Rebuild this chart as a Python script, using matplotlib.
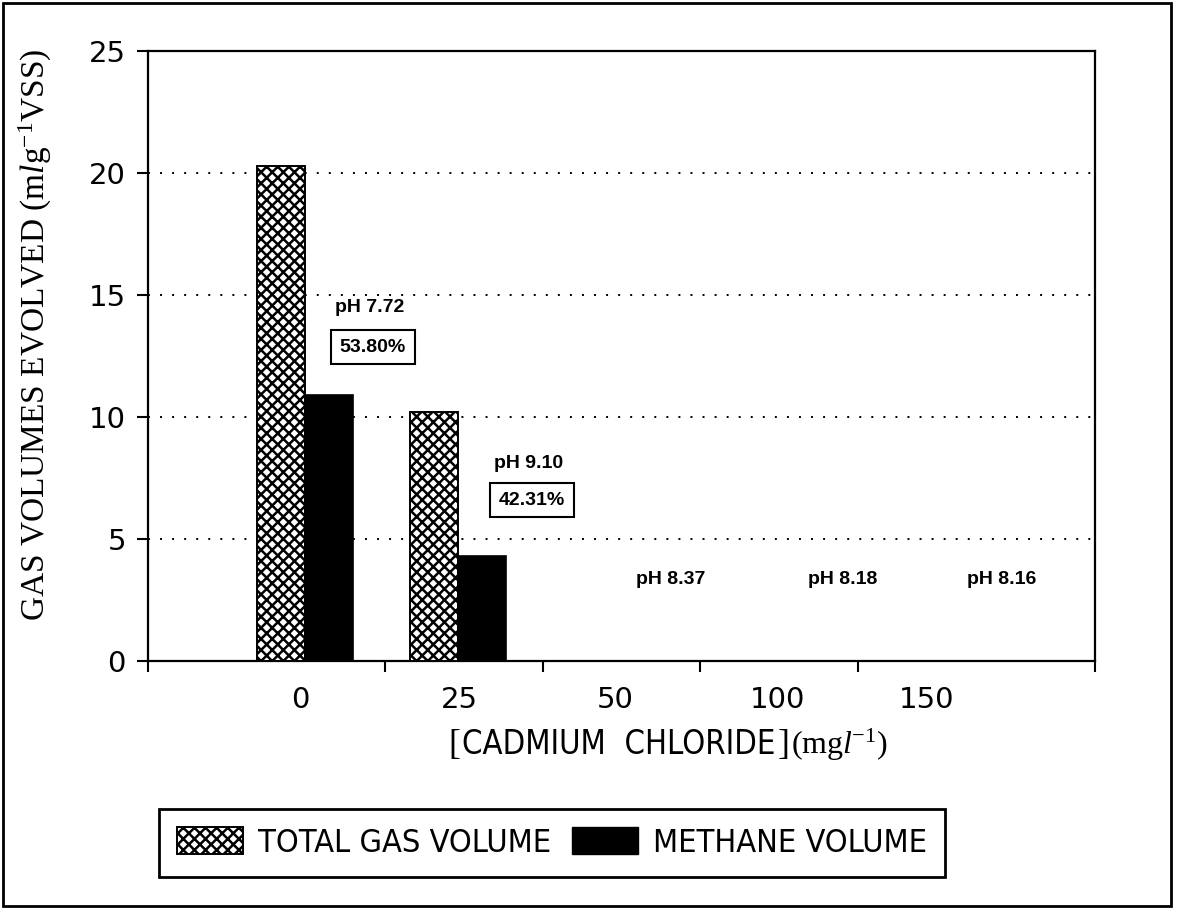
import matplotlib
matplotlib.use('Agg')
import matplotlib.pyplot as plt
import numpy as np
from matplotlib import font_manager as fm
from matplotlib.patches import Rectangle, Patch
from matplotlib.font_manager import FontProperties

# ---------------- data ----------------
concentrations = ['0', '25', '50', '100', '150']
total_gas = [20.3, 10.2, 0.0, 0.0, 0.0]
methane = [10.9, 4.3, 0.0, 0.0, 0.0]
ph_labels = ['pH 7.72', 'pH 9.10', 'pH 8.37', 'pH 8.18', 'pH 8.16']
methane_pct = ['53.80%', '42.31%']
y_ticks = [0, 5, 10, 15, 20, 25]

# ---------------- fonts ----------------
def narrow_font(size):
    cands = []
    for f in fm.fontManager.ttflist:
        fn = f.fname.split('/')[-1].lower()
        if ('narrow' in fn or 'condensed' in fn) and 'bold' not in fn \
                and 'italic' not in fn and 'oblique' not in fn and 'mono' not in fn:
            cands.append(f.fname)
    if cands:
        cands.sort(key=lambda p: (0 if 'liberation' in p.lower() else 1, p))
        return FontProperties(fname=cands[0], size=size)
    return FontProperties(family='Carlito', size=size)

SERIF = 'Liberation Serif'
plt.rcParams['mathtext.fontset'] = 'custom'
plt.rcParams['mathtext.rm'] = SERIF
plt.rcParams['mathtext.it'] = SERIF + ':italic'
plt.rcParams['hatch.linewidth'] = 1.8

W, H = 1178, 910
fig = plt.figure(figsize=(W / 100, H / 100), dpi=100)

def fx(px):
    return px / W

def fy(py):
    return 1 - py / H

L, R, T, B = 148, 1095, 51, 661
ax = fig.add_axes([fx(L), fy(B), fx(R - L), (B - T) / H])

# layout positions (x axis runs 0..6)
group_x = np.array([0.995, 1.965, 2.96, 3.99, 4.93])
label_x = [0.965, 1.975, 2.96, 3.99, 4.93]
bw = 0.305

ax.bar(group_x - bw / 2, total_gas, bw, color='white', edgecolor='black',
       hatch='xxx', linewidth=1.4, zorder=3)
ax.bar(group_x + bw / 2, methane, bw, color='black', edgecolor='black',
       linewidth=1.2, zorder=3)

ax.set_xlim(0, 6)
ax.set_ylim(0, 25)
ax.set_yticks(y_ticks)
ax.set_yticklabels([str(v) for v in y_ticks], fontsize=21, family='DejaVu Sans')
for v in y_ticks[1:-1]:
    ax.axhline(v, color='black', linewidth=1.4, linestyle=(0, (1, 5.2)), zorder=1)

ax.set_xticks([0, 1.5, 2.5, 3.5, 4.5, 6])
ax.set_xticklabels([])
ax.set_xticks(label_x, minor=True)
ax.set_xticklabels(concentrations, minor=True, fontsize=21, family='DejaVu Sans')
ax.tick_params(axis='x', which='minor', length=0, pad=18)
ax.tick_params(axis='x', which='major', direction='out', length=8, width=1.5)
ax.tick_params(axis='y', direction='out', length=8, width=1.5, pad=8)
for s in ax.spines.values():
    s.set_linewidth(1.6)

# annotations
ph_px = [(370, 308), (529, 464), (671, 579), (843, 579), (1002, 579)]
box_px = [(373, 347), (532, 500)]
for lab, (px, py) in zip(ph_labels, ph_px):
    fig.text(fx(px), fy(py), lab, ha='center', va='center', fontsize=14,
             fontweight='bold', family='Liberation Sans')
for lab, (px, py) in zip(methane_pct, box_px):
    fig.text(fx(px), fy(py), lab, ha='center', va='center', fontsize=14,
             fontweight='bold', family='Liberation Sans',
             bbox=dict(boxstyle='square,pad=0.45', facecolor='white',
                       edgecolor='black', linewidth=1.5))

# y label
fig.text(fx(35), fy(335), 'GAS VOLUMES EVOLVED (m$\\mathit{l}$g$^{-1}$VSS)',
         rotation=90, ha='center', va='center', fontsize=24, family=SERIF)

# x label assembled from pieces in mixed fonts, centred on x=668 px
renderer = fig.canvas.get_renderer()
pieces = [('[', FontProperties(family=SERIF, size=26)),
          ('CADMIUM  CHLORIDE', narrow_font(23.5)),
          (']', FontProperties(family=SERIF, size=26)),
          ('(mg$\\mathit{l}$$^{-1}$)', FontProperties(family=SERIF, size=23))]
base = 754
texts = []
for txt, fp in pieces:
    t = fig.text(0, fy(base), txt, ha='left', va='baseline', fontproperties=fp)
    texts.append(t)
widths = [t.get_window_extent(renderer).width for t in texts]
gap = 2
total = sum(widths) + gap * (len(widths) - 1)
xcur = 668 - total / 2
for t, w in zip(texts, widths):
    t.set_x(fx(xcur))
    xcur += w + gap

# legend
handles = [Patch(facecolor='white', edgecolor='black', hatch='xxx', linewidth=1.4),
           Patch(facecolor='black', edgecolor='black')]
leg = fig.legend(handles, ['TOTAL GAS VOLUME', 'METHANE VOLUME'], ncol=2,
                 loc='center', bbox_to_anchor=(fx(552), fy(843)),
                 frameon=True, fancybox=False, edgecolor='black', framealpha=1,
                 prop=narrow_font(23.3),
                 handlelength=2.05, handleheight=0.92, handletextpad=0.45,
                 columnspacing=0.65, borderpad=0.55, borderaxespad=0)
leg.get_frame().set_linewidth(2)

# outer frame
fig.patches.append(Rectangle((fx(3), fy(906)), fx(1168), (906 - 3) / H,
                             transform=fig.transFigure, fill=False,
                             edgecolor='black', linewidth=2))

fig.savefig('out.png', dpi=100)
